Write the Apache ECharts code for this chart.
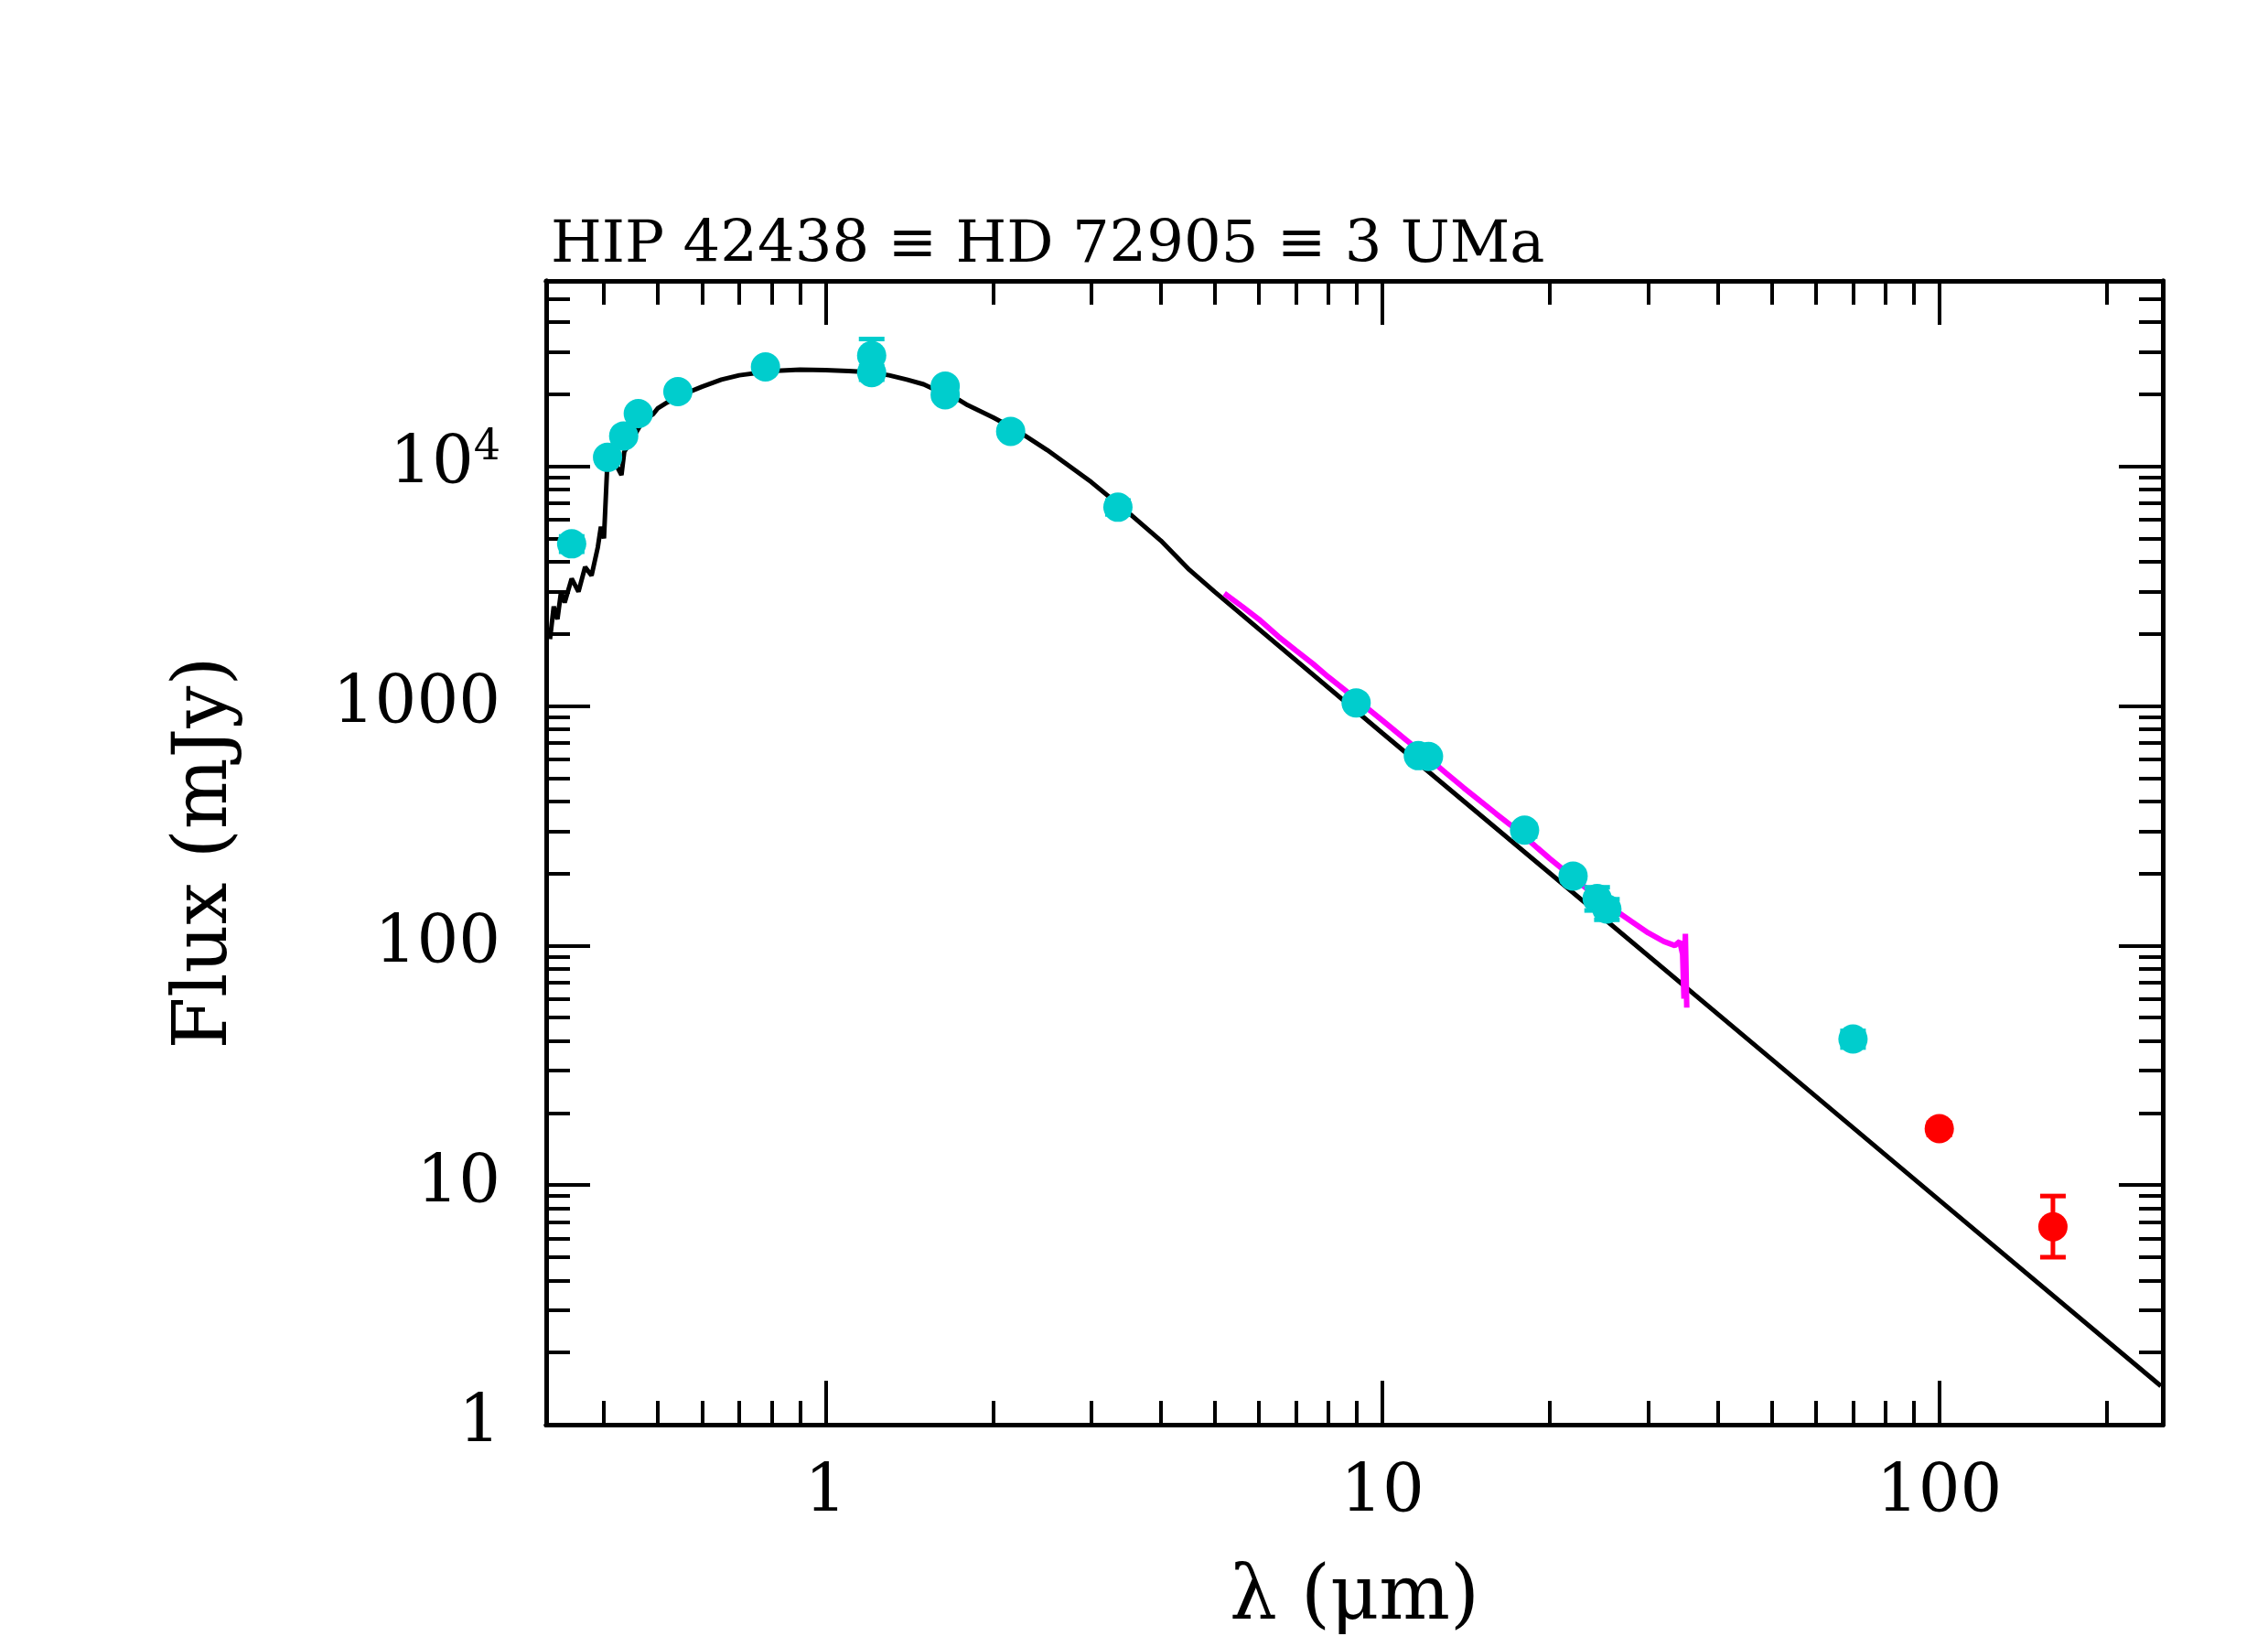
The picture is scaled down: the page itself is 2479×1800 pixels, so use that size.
<!DOCTYPE html>
<html><head><meta charset="utf-8">
<script src="https://cdn.jsdelivr.net/npm/echarts@6/dist/echarts.min.js"></script>
<style>html,body{margin:0;background:#fff}#c{width:2479px;height:1800px}</style>
</head><body><div id="c"></div>
<script>
// model photosphere (um, mJy)
const model = [[0.32,1900],[0.325,2600],[0.33,2300],[0.335,3000],[0.34,2700],[0.35,3400],[0.36,3000],[0.37,3800],[0.38,3500],[0.39,4600],[0.395,5600],[0.40,5000],[0.405,9500],[0.41,10500],[0.42,10200],[0.43,9200],[0.435,11500],[0.45,13000],[0.47,15500],[0.49,16500],[0.5,17500],[0.52,18500],[0.55,19800],[0.6,21500],[0.65,23000],[0.7,24000],[0.8,25000],[0.9,25300],[1.0,25200],[1.1,25000],[1.2,24700],[1.3,24000],[1.4,23000],[1.5,22000],[1.6,20500],[1.7,19500],[1.8,18000],[2.0,16000],[2.2,14200],[2.5,11700],[3.0,8600],[3.5,6400],[4.0,4900],[4.5,3700],[5,2990],[10,770],[20,200],[50,33.5],[100,8.65],[250,1.45]];
// IRS spectrum
const irs = [[5.2,2950],[5.6,2600],[6,2300],[6.5,1950],[7,1700],[7.5,1500],[8,1320],[8.5,1180],[9,1060],[10,870],[11,725],[12,615],[13,525],[14,455],[15,400],[16,355],[17,318],[18,285],[19,255],[20,230],[22,192],[24,163],[26,142],[28,126],[30,113],[32,104],[33.5,100],[34.2,104],[34.6,92],[34.8,60],[35,112],[35.2,55]];
// photometry: [um, mJy, lo, hi]
const cyanPts = [[0.35,4750,4400,5100],[0.406,10900,10400,11400],[0.434,13400,12800,14000],[0.461,16600,16000,17200],[0.543,20500,19800,21200],[0.78,26000,25200,26800],[1.21,24600,23000,26200],[1.21,29000,25000,34000],[1.64,21600,20800,22400],[1.64,19900,19100,20700],[2.15,14000,13400,14600],[3.35,6750,6300,7200],[8.97,1030,990,1070],[11.6,620,600,640],[12.1,615,595,635],[18,303,285,320],[22,195,185,205],[24.3,157,140,175],[25.3,142,128,156],[70,40.7,37.5,44]];
const redPts = [[100,17.2,16.2,18.2],[160,6.7,5.0,9.0]];
const xMajor = [0,1,2];
const yMajor = [0,1,2,3,4];
const yLabels = {0:'1',1:'10',2:'100',3:'1000'};

const L = Math.log10;
const xMin = L(0.315), xMax = L(252), yMin = 0, yMax = 4.774;
function minors(lo, hi, n0, n1){ const r=[]; for(let n=n0;n<=n1;n++) for(let k=2;k<=9;k++){const v=L(k)+n; if(v>lo&&v<hi) r.push(v);} return r; }
const xMinor = minors(xMin,xMax,-1,2), yMinor = minors(yMin,yMax,0,4);
const font = 'DejaVu Serif';
const lineStyle = {color:'#000', width:5};

function xa(pos, ticks, len, labels){
  return {type:'value', position:pos, min:xMin, max:xMax, gridIndex:0,
    axisLine:{show:true, onZero:false, lineStyle},
    splitLine:{show:false},
    axisTick:{show:true, inside:true, length:len, customValues:ticks, lineStyle:{color:'#000',width:4}},
    axisLabel:{show:labels, customValues:ticks, margin:40, fontFamily:font, fontSize:72, color:'#000',
      formatter:v=>String(Math.round(Math.pow(10,v)))},
    name: labels ? 'λ (μm)' : '', nameLocation:'middle', nameGap:150,
    nameTextStyle:{fontFamily:font, fontSize:82, color:'#000'}};
}
function ya(pos, ticks, len, labels){
  return {type:'value', position:pos, min:yMin, max:yMax, gridIndex:0,
    axisLine:{show:true, onZero:false, lineStyle},
    splitLine:{show:false},
    axisTick:{show:true, inside:true, length:len, customValues:ticks, lineStyle:{color:'#000',width:4}},
    axisLabel:{show:labels, customValues:ticks, margin:50, fontFamily:font, fontSize:72, color:'#000',
      formatter:v=>{const r=Math.round(v); return r===4 ? '{b|10}{s|4}' : yLabels[r];},
      rich:{b:{fontFamily:font,fontSize:72,color:'#000'},s:{fontFamily:font,fontSize:46,color:'#000',verticalAlign:'top',padding:[0,0,40,0]}}},
    name: labels ? 'Flux (mJy)' : '', nameLocation:'middle', nameGap:330,
    nameTextStyle:{fontFamily:font, fontSize:82, color:'#000'}};
}

function errSeries(pts, color){
  return {type:'custom', xAxisIndex:0, yAxisIndex:0, z:3,
    data: pts.map(p=>[L(p[0]),L(p[2]),L(p[3])]),
    renderItem:(params, api)=>{
      const a=api.coord([api.value(0),api.value(1)]), b=api.coord([api.value(0),api.value(2)]);
      const st={stroke:color, lineWidth:5};
      return {type:'group', children:[
        {type:'line', shape:{x1:a[0],y1:a[1],x2:b[0],y2:b[1]}, style:st},
        {type:'line', shape:{x1:a[0]-14,y1:a[1],x2:a[0]+14,y2:a[1]}, style:st},
        {type:'line', shape:{x1:b[0]-14,y1:b[1],x2:b[0]+14,y2:b[1]}, style:st}]};
    }};
}

const chart = echarts.init(document.getElementById('c'));
chart.setOption({
  backgroundColor:'#fff', animation:false,
  title:{text:'HIP 42438 ≡ HD 72905 ≡ 3 UMa', left:597, top:232,
    textStyle:{fontFamily:font, fontSize:64, fontWeight:'normal', color:'#000'}},
  grid:{left:597, right:115, top:307, bottom:243},
  xAxis:[xa('bottom',xMajor,48,true), xa('bottom',xMinor,26,false), xa('top',xMajor,48,false), xa('top',xMinor,26,false)],
  yAxis:[ya('left',yMajor,48,true), ya('left',yMinor,26,false), ya('right',yMajor,48,false), ya('right',yMinor,26,false)],
  series:[
    {type:'line', data:model.map(p=>[L(p[0]),L(p[1])]), showSymbol:false, lineStyle:{color:'#000',width:5}, z:1},
    {type:'line', data:irs.map(p=>[L(p[0]),L(p[1])]), showSymbol:false, lineStyle:{color:'#ff00ff',width:6}, z:2},
    errSeries(cyanPts,'#00cdcd'),
    errSeries(redPts,'#ff0000'),
    {type:'scatter', data:cyanPts.map(p=>[L(p[0]),L(p[1])]), symbolSize:32, itemStyle:{color:'#00cdcd',opacity:1}, z:4},
    {type:'scatter', data:redPts.map(p=>[L(p[0]),L(p[1])]), symbolSize:32, itemStyle:{color:'#ff0000',opacity:1}, z:4}
  ]
});
</script></body></html>
